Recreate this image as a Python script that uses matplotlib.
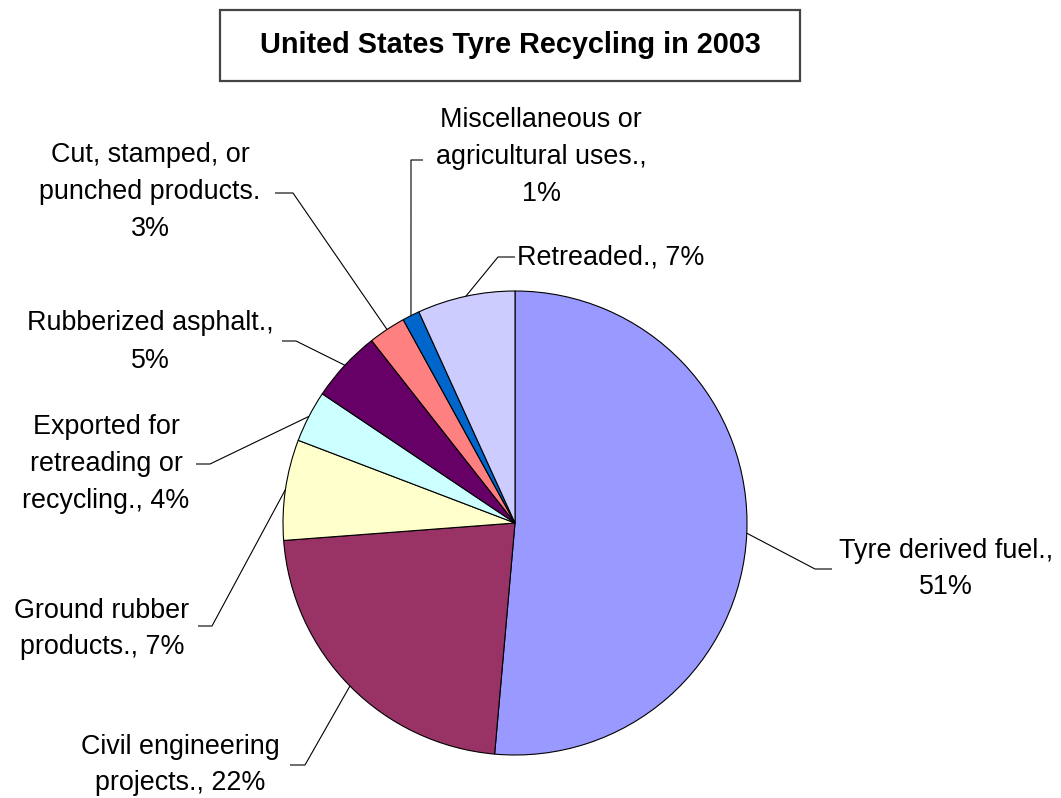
import numpy as np
import matplotlib
matplotlib.use("Agg")
import matplotlib.pyplot as plt
from matplotlib.patches import Rectangle

plt.rcParams['font.family'] = ['Liberation Sans', 'DejaVu Sans']

# ---- data ----
title = "United States Tyre Recycling in 2003"
categories = ["Tyre derived fuel.", "Civil engineering projects.", "Ground rubber products.",
              "Exported for retreading or recycling.", "Rubberized asphalt.",
              "Cut, stamped, or punched products.", "Miscellaneous or agricultural uses.",
              "Retreaded."]
values = [51.4, 22.4, 7.0, 3.6, 5.0, 2.6, 1.2, 6.8]
label_templates = ["Tyre derived fuel.,\n{p}%", "Civil engineering\nprojects., {p}%",
                   "Ground rubber\nproducts., {p}%", "Exported for\nretreading or\nrecycling., {p}%",
                   "Rubberized asphalt.,\n{p}%", "Cut, stamped, or\npunched products.\n{p}%",
                   "Miscellaneous or\nagricultural uses.,\n{p}%", "Retreaded., {p}%"]
colors = ["#9999FF", "#993366", "#FFFFCC", "#CCFFFF", "#660066", "#FF8080", "#0066CC", "#CCCCFF"]

# ---- layout (pixel coordinates, y downwards) ----
W, H = 1061, 798
pie_center = (515, 523)
pie_radius = 232
# (knee, end of leader line, text position, ha)
label_layout = [
    ((815, 569), (832, 569), (946, 569), 'center'),
    ((305, 765), (290, 765), (180, 765), 'center'),
    ((212, 626), (198, 626), (102, 629), 'center'),
    ((210, 464), (196, 464), (106, 464), 'center'),
    ((296, 341), (282, 341), (150, 342), 'center'),
    ((293, 193), (275, 193), (150, 192), 'center'),
    ((411, 160), (423, 160), (541, 157), 'center'),
    ((498, 257), (515, 257), (517, 257), 'left'),
]

fig = plt.figure(figsize=(W / 100, H / 100), dpi=100)
ax = fig.add_axes([0, 0, 1, 1])

wedges, _ = ax.pie(values, colors=colors, startangle=-90, counterclock=True,
                   center=pie_center, radius=pie_radius,
                   wedgeprops=dict(edgecolor='black', linewidth=0.8))
ax.set_xlim(0, W)
ax.set_ylim(H, 0)
ax.set_aspect('auto')
ax.axis('off')

total = sum(values)
for w, v, tmpl, (knee, end, tpos, ha) in zip(wedges, values, label_templates, label_layout):
    mid = np.deg2rad((w.theta1 + w.theta2) / 2)
    sx = pie_center[0] + pie_radius * np.cos(mid)
    sy = pie_center[1] + pie_radius * np.sin(mid)
    ax.plot([sx, knee[0], end[0]], [sy, knee[1], end[1]], color='black', lw=0.8,
            solid_capstyle='butt')
    pct = int(round(v / total * 100))
    ax.text(tpos[0], tpos[1], tmpl.format(p=pct), ha=ha, va='center',
            multialignment='center', fontsize=19.4, linespacing=1.55, color='black')

# title box
ax.add_patch(Rectangle((220, 10), 580, 71, facecolor='white', edgecolor='#444444',
                       linewidth=1.6))
ax.text(510, 45, title, ha='center', va='center', fontsize=20.8, fontweight='bold',
        color='black')

fig.savefig("out.png", dpi=100, facecolor='white')
